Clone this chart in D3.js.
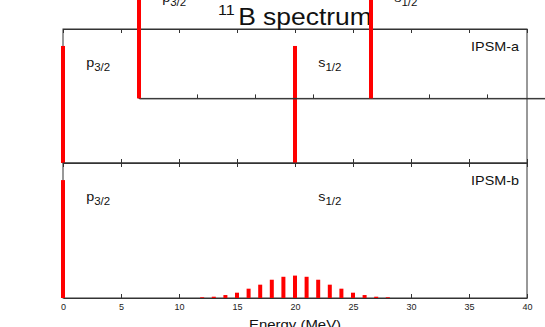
<!DOCTYPE html>
<html>
<head>
<meta charset="utf-8">
<script src="https://cdn.jsdelivr.net/npm/d3@7"></script>
<style>
  body { margin: 0; background: #fff; }
  svg { display: block; font-family: "Liberation Sans", Arial, sans-serif; }
</style>
</head>
<body>
<div id="viz"></div>
<script>
// tick labels on the energy axis
var energyTicks = [0, 5, 10, 15, 20, 25, 30, 35, 40];

// IPSM-a : two pure single-particle states
var energiesA = [0, 20];
var strengthsA = [1.0, 1.0];

// IPSM-b : p3/2 at zero, s1/2 strength spread round 20 MeV
var energiesB = [0, 12, 13, 14, 15, 16, 17, 18, 19, 20, 21, 22, 23, 24, 25, 26, 27, 28];
var strengthsB = [1.0, 0.006, 0.011, 0.025, 0.045, 0.079, 0.113, 0.155, 0.18, 0.19,
                  0.18, 0.155, 0.113, 0.079, 0.045, 0.025, 0.011, 0.006];

var panelNames = ['IPSM-a', 'IPSM-b'];
var orbitNames = ['p', 's'];
var orbitSubs = ['3/2', '1/2'];
var orbitLabelE = [2, 22];

var width = 545,
    height = 327,
    left = 63,
    right = 527,
    stretch = 1.15;

var panels = [
  {top: 29, bottom: 163, energies: energiesA, strengths: strengthsA, name: panelNames[0]},
  {top: 163, bottom: 298, energies: energiesB, strengths: strengthsB, name: panelNames[1]}
];

var x = d3.scaleLinear()
    .domain([0, 40])
    .range([left, right]);

var svg = d3.select('#viz').append('svg')
    .attr('width', width)
    .attr('height', height);

function drawPanel(g, p, opts) {
  var y = d3.scaleLinear()
      .domain([0, 1.145])
      .range([p.bottom, p.top]);

  g.append('rect')
      .attr('x', left)
      .attr('y', p.top)
      .attr('width', right - left)
      .attr('height', p.bottom - p.top)
      .attr('fill', 'none')
      .attr('stroke', '#333');

  // inward ticks on top and bottom
  g.append('g')
      .attr('transform', 'translate(0,' + p.top + ')')
      .call(d3.axisTop(x).tickValues(energyTicks).tickSize(-4).tickSizeOuter(0).tickFormat(''));

  var bottomAxis = g.append('g')
      .attr('transform', 'translate(0,' + p.bottom + ')')
      .call(d3.axisBottom(x).tickValues(energyTicks).tickSize(-4).tickSizeOuter(0)
            .tickPadding(6).tickFormat(opts.labels ? d3.format('d') : ''));
  bottomAxis.selectAll('text')
      .attr('font-size', 9)
      .attr('font-family', '"Liberation Sans", Arial, sans-serif')
      .attr('fill', '#222');

  g.selectAll('path.domain, .tick line').attr('stroke', '#333');

  g.append('g').selectAll('rect')
      .data(p.energies.map(function(e, i) { return {e: e, s: p.strengths[i]}; }))
      .enter().append('rect')
      .attr('x', function(d) { return x(d.e) - 2; })
      .attr('y', function(d) { return y(d.s); })
      .attr('width', 4)
      .attr('height', function(d) { return p.bottom - y(d.s); })
      .attr('fill', '#f00');

  // orbit labels
  orbitNames.forEach(function(n, i) {
    var t = g.append('text')
        .attr('transform', 'translate(' + x(orbitLabelE[i]) + ',' + (p.top + 38) + ') scale(' + stretch + ',1)')
        .attr('font-size', 12.5)
        .attr('fill', '#111');
    t.append('tspan').text(n);
    t.append('tspan').attr('font-size', 10).attr('dy', 3.5).text(orbitSubs[i]);
  });

  g.append('text')
      .attr('transform', 'translate(' + (right - 8) + ',' + (p.top + 22) + ') scale(' + stretch + ',1)')
      .attr('text-anchor', 'end')
      .attr('font-size', 12.5)
      .attr('fill', '#111')
      .text(p.name);
}

drawPanel(svg.append('g'), panels[0], {labels: false});
drawPanel(svg.append('g'), panels[1], {labels: true});

// axis title
svg.append('text')
    .attr('transform', 'translate(' + x(20) + ',328.5) scale(' + stretch + ',1)')
    .attr('text-anchor', 'middle')
    .attr('font-size', 13)
    .attr('fill', '#111')
    .text('Energy (MeV)');

// figure title
var title = svg.append('text')
    .attr('transform', 'translate(218,0) scale(' + stretch + ',1)')
    .attr('fill', '#111');
title.append('tspan').attr('y', 15).attr('font-size', 14).text('11');
title.append('tspan').attr('y', 25).attr('dx', 3).attr('font-size', 23).text('B spectrum');

// stray shifted copy of the upper panel, as in the original figure
drawPanel(svg.append('g').attr('transform', 'translate(76,-64.6)'), panels[0], {labels: false});
</script>
</body>
</html>
